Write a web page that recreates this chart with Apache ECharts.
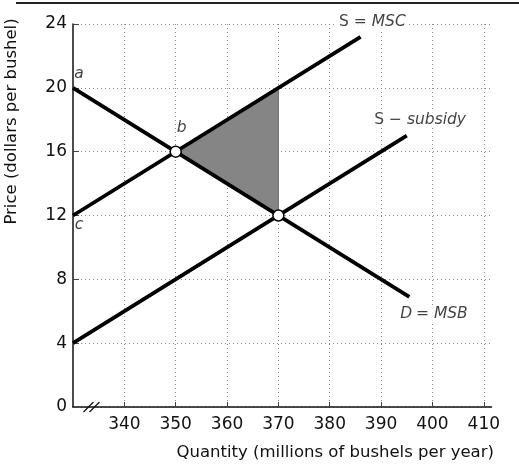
<!DOCTYPE html>
<html><head><meta charset="utf-8">
<script src="https://cdn.jsdelivr.net/npm/echarts@6/dist/echarts.min.js"></script>
<style>html,body{margin:0;padding:0;background:#fff}#c{width:519px;height:464px}</style>
</head><body><div id="c"></div>
<script>
// ---- data ----
const xTicks = [340, 350, 360, 370, 380, 390, 400, 410];
const yTicks = [0, 4, 8, 12, 16, 20, 24];
const supplyMSC = [[330, 12], [386, 23.2]];
const supplySubsidy = [[330, 4], [395, 17]];
const demandMSB = [[330, 20], [395.5, 6.9]];
const deadweightLoss = [[350, 16], [370, 20], [370, 12]];
const equilibria = [[350, 16], [370, 12]];
const pointLabels = [['a', 330, 20], ['b', 350, 16], ['c', 330, 12]];
const curveLabels = [
  ['{u|S = }{i|MSC}', 388.3, 24.1],
  ['{u|S \u2212 }{i|subsidy}', 397.6, 18],
  ['{i|D} {u|= }{i|MSB}', 400.3, 5.8]
];
const axisBreak = [[333.6, 0]];

const FONT = 'DejaVu Sans';
const chart = echarts.init(document.getElementById('c'));
const lineSeries = (d) => ({
  type: 'line', data: d, symbol: 'none', silent: true,
  lineStyle: { color: '#000', width: 3.8 }, z: 5
});
chart.setOption({
  animation: false,
  textStyle: { fontFamily: FONT },
  grid: { left: 73, right: 27.5, top: 24, bottom: 57, containLabel: false, outerBoundsMode: 'none' },
  graphic: [{
    type: 'line', shape: { x1: 16, y1: 3, x2: 519, y2: 3 },
    style: { stroke: '#222', lineWidth: 2 }
  }],
  xAxis: {
    type: 'value', min: 330, max: 411.5,
    name: 'Quantity (millions of bushels per year)',
    nameLocation: 'middle', nameGap: 37,
    nameTextStyle: { fontSize: 16.5, color: '#111', fontFamily: FONT, padding: [0, 0, 0, 106] },
    axisLine: { lineStyle: { color: '#111', width: 1.5 } },
    axisTick: { inside: true, length: 5, customValues: xTicks, lineStyle: { color: '#444' } },
    axisLabel: { customValues: xTicks, fontSize: 17, color: '#111', margin: 9 },
    splitLine: { show: true, lineStyle: { color: '#888', type: [1, 3], width: 1 } }
  },
  yAxis: {
    type: 'value', min: 0, max: 24, interval: 4,
    name: 'Price (dollars per bushel)',
    nameLocation: 'middle', nameGap: 53, nameRotate: 90,
    nameTextStyle: { fontSize: 16.5, color: '#111', fontFamily: FONT, padding: [0, 0, 0, 188] },
    axisLine: { show: true, lineStyle: { color: '#111', width: 1.5 } },
    axisTick: { show: true, inside: true, length: 6, lineStyle: { color: '#444' } },
    axisLabel: { fontSize: 17, color: '#111', margin: 6 },
    splitLine: { show: true, lineStyle: { color: '#888', type: [1, 3], width: 1 } }
  },
  series: [
    {
      type: 'custom', silent: true, z: 3,
      data: [deadweightLoss.flat()],
      renderItem: (params, api) => {
        const pts = [];
        for (let i = 0; i < 3; i++) pts.push(api.coord([api.value(2 * i), api.value(2 * i + 1)]));
        return { type: 'polygon', shape: { points: pts }, style: { fill: '#858585', stroke: '#6f6f6f', lineWidth: 1 } };
      }
    },
    lineSeries(supplyMSC),
    lineSeries(supplySubsidy),
    lineSeries(demandMSB),
    {
      type: 'scatter', data: equilibria, symbol: 'circle', symbolSize: 11, z: 8, silent: true,
      itemStyle: { color: '#fff', borderColor: '#000', borderWidth: 1.5, opacity: 1 }
    },
    {
      type: 'scatter', symbolSize: 0, z: 9, silent: true, clip: false,
      data: pointLabels.map(p => ({ value: [p[1], p[2]], name: p[0] })),
      label: {
        show: true, formatter: '{b}', fontStyle: 'italic', fontSize: 15.5, color: '#111', fontFamily: FONT,
        position: 'top'
      },
      labelLayout: (p) => {
        const n = pointLabels[p.dataIndex][0];
        if (n === 'a') return { dx: 6, dy: -1 };
        if (n === 'b') return { dx: 6, dy: -11 };
        return { dx: 6, dy: 22 };
      }
    },
    {
      type: 'scatter', symbolSize: 0, z: 9, silent: true, clip: false,
      data: curveLabels.map(p => ({ value: [p[1], p[2]], name: p[0] })),
      label: {
        show: true, position: 'inside', formatter: '{b}',
        backgroundColor: '#fff', padding: [0, 2],
        rich: {
          u: { fontSize: 15.5, color: '#111', fontFamily: FONT },
          i: { fontSize: 15.5, color: '#111', fontFamily: FONT, fontStyle: 'italic' }
        }
      }
    },
    {
      type: 'custom', silent: true, z: 10, clip: false,
      data: axisBreak,
      renderItem: (params, api) => {
        const c = api.coord([api.value(0), api.value(1)]);
        return {
          type: 'group', children: [-3, 3].map(o => ({
            type: 'line',
            shape: { x1: c[0] + o - 5, y1: c[1] + 5, x2: c[0] + o + 5, y2: c[1] - 5 },
            style: { stroke: '#111', lineWidth: 1.2 }
          }))
        };
      }
    }
  ]
});
</script></body></html>
